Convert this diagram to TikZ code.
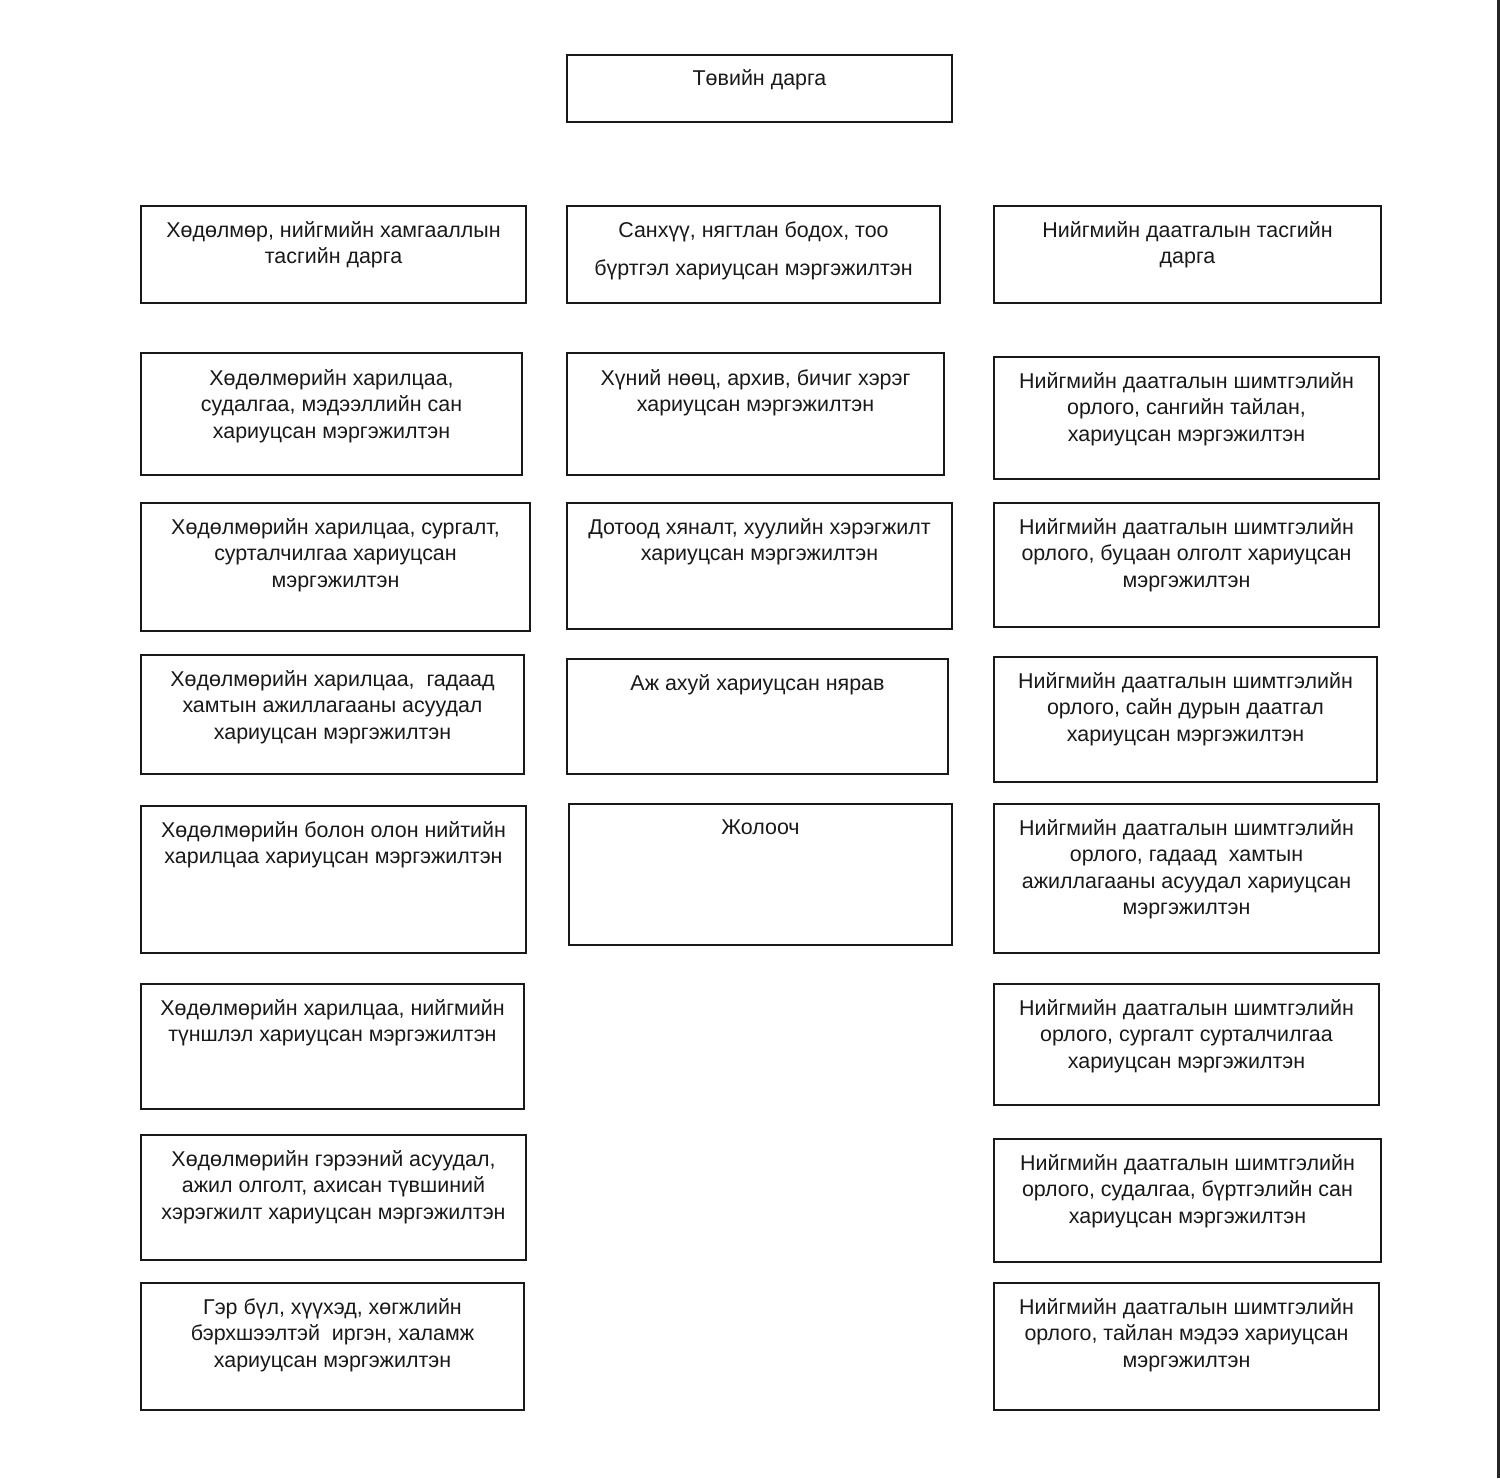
\documentclass[tikz,border=0pt]{standalone}
\usepackage{fontspec}
\setmainfont{Liberation Sans}
\usetikzlibrary{fit}
\tikzset{
  orgbox/.style={draw=black!90, line width=1.6pt, inner sep=0pt, fill=none},
  orgtxt/.style={inner sep=0pt, align=center, font=\fontsize{12.2}{15.1}\selectfont, anchor=north, text=black!90}
}
\newcommand{\mybox}[7]{%
  \node[orgbox, fit={(#2,#3) (#4,#5)}] (#1) {};
  \node[orgtxt] (#1t) at ({(#2+#4)/2},{#6-8}) {#7};
}
\begin{document}
\begin{tikzpicture}[x=0.02cm, y=-0.02cm]
\useasboundingbox (0,0) rectangle (1500,1478);
\draw[line width=1.6pt, color=black!85] (1498.5,0) -- (1498.5,1478);

\mybox{top}{567}{55}{952}{122}{77}{Төвийн дарга}

\mybox{l1}{141}{206}{526}{303}{229}{Хөдөлмөр, нийгмийн хамгааллын\\тасгийн дарга}
\mybox{m1}{567}{206}{940}{303}{229}{Санхүү, нягтлан бодох, тоо\\[6.5pt]бүртгэл хариуцсан мэргэжилтэн}
\mybox{r1}{994}{206}{1381}{303}{229}{Нийгмийн даатгалын тасгийн\\дарга}

\mybox{l2}{141}{353}{522}{475}{377}{Хөдөлмөрийн харилцаа,\\судалгаа, мэдээллийн сан\\хариуцсан мэргэжилтэн}
\mybox{m2}{567}{353}{944}{475}{377}{Хүний нөөц, архив, бичиг хэрэг\\хариуцсан мэргэжилтэн}
\mybox{r2}{994}{357}{1379}{479}{380}{Нийгмийн даатгалын шимтгэлийн\\орлого, сангийн тайлан,\\хариуцсан мэргэжилтэн}

\mybox{l3}{141}{503}{530}{631}{526}{Хөдөлмөрийн харилцаа, сургалт,\\сурталчилгаа хариуцсан\\мэргэжилтэн}
\mybox{m3}{567}{503}{952}{629}{526}{Дотоод хяналт, хуулийн хэрэгжилт\\хариуцсан мэргэжилтэн}
\mybox{r3}{994}{503}{1379}{627}{526}{Нийгмийн даатгалын шимтгэлийн\\орлого, буцаан олголт хариуцсан\\мэргэжилтэн}

\mybox{l4}{141}{655}{524}{774}{678}{Хөдөлмөрийн харилцаа,\ \ гадаад\\хамтын ажиллагааны асуудал\\хариуцсан мэргэжилтэн}
\mybox{m4}{567}{659}{948}{774}{682}{Аж ахуй хариуцсан нярав}
\mybox{r4}{994}{657}{1377}{782}{680}{Нийгмийн даатгалын шимтгэлийн\\орлого, сайн дурын даатгал\\хариуцсан мэргэжилтэн}

\mybox{l5}{141}{806}{526}{953}{829}{Хөдөлмөрийн болон олон нийтийн\\харилцаа хариуцсан мэргэжилтэн}
\mybox{m5}{569}{804}{952}{945}{827}{Жолооч}
\mybox{r5}{994}{804}{1379}{953}{827}{Нийгмийн даатгалын шимтгэлийн\\орлого, гадаад\ \ хамтын\\ажиллагааны асуудал хариуцсан\\мэргэжилтэн}

\mybox{l6}{141}{984}{524}{1109}{1007}{Хөдөлмөрийн харилцаа, нийгмийн\\түншлэл хариуцсан мэргэжилтэн}
\mybox{r6}{994}{984}{1379}{1105}{1007}{Нийгмийн даатгалын шимтгэлийн\\орлого, сургалт сурталчилгаа\\хариуцсан мэргэжилтэн}

\mybox{l7}{141}{1135}{526}{1260}{1158}{Хөдөлмөрийн гэрээний асуудал,\\ажил олголт, ахисан түвшиний\\хэрэгжилт хариуцсан мэргэжилтэн}
\mybox{r7}{994}{1139}{1381}{1262}{1162}{Нийгмийн даатгалын шимтгэлийн\\орлого, судалгаа, бүртгэлийн сан\\хариуцсан мэргэжилтэн}

\mybox{l8}{141}{1283}{524}{1410}{1306}{Гэр бүл, хүүхэд, хөгжлийн\\бэрхшээлтэй\ \ иргэн, халамж\\хариуцсан мэргэжилтэн}
\mybox{r8}{994}{1283}{1379}{1410}{1306}{Нийгмийн даатгалын шимтгэлийн\\орлого, тайлан мэдээ хариуцсан\\мэргэжилтэн}
\end{tikzpicture}
\end{document}
